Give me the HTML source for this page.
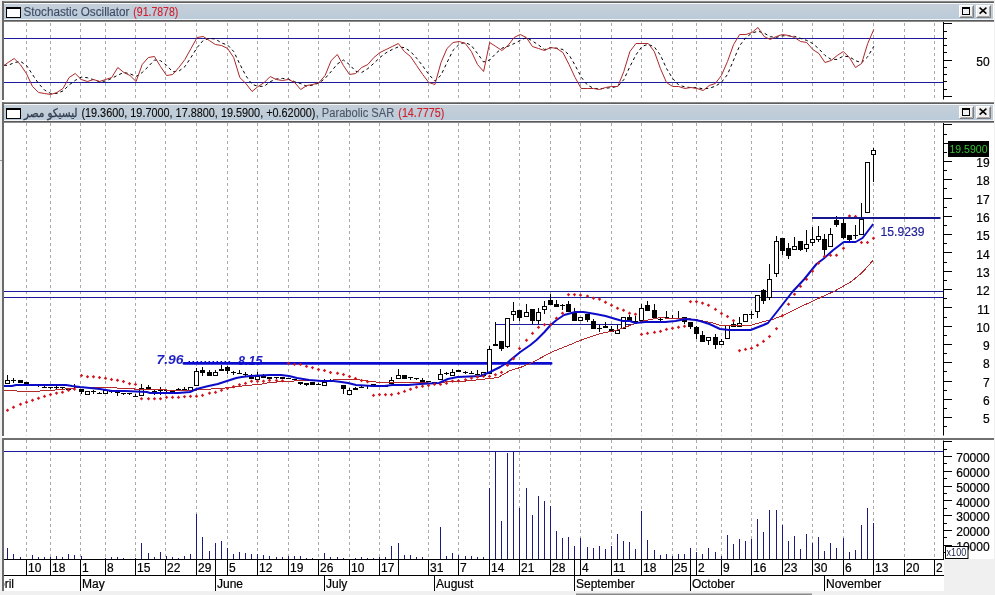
<!DOCTYPE html>
<html><head><meta charset="utf-8"><title>Chart</title>
<style>html,body{margin:0;padding:0;background:#f0f0f0;overflow:hidden}svg{display:block}</style>
</head><body>
<svg width="995" height="595" viewBox="0 0 995 595"><defs><linearGradient id="tg" x1="0" y1="0" x2="0" y2="1"><stop offset="0" stop-color="#c5cfd9"/><stop offset="1" stop-color="#bbcbd9"/></linearGradient></defs><rect x="0" y="0" width="995" height="595" fill="#f0f0f0"/>
<rect x="2" y="1" width="992" height="99" fill="#ffffff"/>
<rect x="2" y="100" width="992" height="3" fill="#ffffff"/>
<rect x="2" y="102" width="992" height="334" fill="#ffffff"/>
<rect x="2" y="436" width="992" height="3" fill="#ffffff"/>
<rect x="2" y="438" width="942" height="153" fill="#ffffff"/>
<rect x="944" y="438" width="50" height="121" fill="#ffffff"/>
<rect x="2" y="1" width="992" height="1" fill="#8a8a8a"/>
<rect x="2" y="2" width="992" height="1" fill="#5e5e5e"/>
<rect x="4" y="3" width="989" height="1" fill="#f6f8fa"/>
<rect x="4" y="4" width="989" height="15" fill="url(#tg)"/>
<rect x="4" y="19" width="989" height="1" fill="#f2f5f8"/>
<rect x="4" y="20" width="990" height="1" fill="#5a5a5a"/>
<rect x="4" y="21" width="990" height="1" fill="#8c8c8c"/>
<rect x="6.5" y="7.5" width="14" height="10" fill="#ffffff" stroke="#000" stroke-width="1"/>
<rect x="6" y="7" width="15" height="2" fill="#000"/>
<rect x="959" y="5" width="15" height="13" fill="#f0f0f0"/>
<path d="M959.5 17.5 V5.5 H973.5" stroke="#ffffff" fill="none"/>
<path d="M959.5 17.5 H973.5 V5.5" stroke="#7c7c7c" fill="none"/>
<path d="M960.5 16.5 H972.5 V6.5" stroke="#a8a8a8" fill="none"/>
<rect x="976" y="5" width="15" height="13" fill="#f0f0f0"/>
<path d="M976.5 17.5 V5.5 H990.5" stroke="#ffffff" fill="none"/>
<path d="M976.5 17.5 H990.5 V5.5" stroke="#7c7c7c" fill="none"/>
<path d="M977.5 16.5 H989.5 V6.5" stroke="#a8a8a8" fill="none"/>
<rect x="962.5" y="7.5" width="7" height="7" fill="none" stroke="#000"/>
<rect x="962" y="7" width="8" height="2" fill="#000"/>
<path d="M979.6 7.6 L986.4 13.6 M986.4 7.6 L979.6 13.6" stroke="#000" stroke-width="1.5"/>
<rect x="2" y="102" width="992" height="1" fill="#8a8a8a"/>
<rect x="2" y="103" width="992" height="1" fill="#5e5e5e"/>
<rect x="4" y="104" width="989" height="1" fill="#f6f8fa"/>
<rect x="4" y="105" width="989" height="15" fill="url(#tg)"/>
<rect x="4" y="120" width="989" height="1" fill="#f2f5f8"/>
<rect x="4" y="121" width="990" height="1" fill="#5a5a5a"/>
<rect x="4" y="122" width="990" height="1" fill="#8c8c8c"/>
<rect x="6.5" y="108.5" width="14" height="10" fill="#ffffff" stroke="#000" stroke-width="1"/>
<rect x="6" y="108" width="15" height="2" fill="#000"/>
<rect x="959" y="106" width="15" height="13" fill="#f0f0f0"/>
<path d="M959.5 118.5 V106.5 H973.5" stroke="#ffffff" fill="none"/>
<path d="M959.5 118.5 H973.5 V106.5" stroke="#7c7c7c" fill="none"/>
<path d="M960.5 117.5 H972.5 V107.5" stroke="#a8a8a8" fill="none"/>
<rect x="976" y="106" width="15" height="13" fill="#f0f0f0"/>
<path d="M976.5 118.5 V106.5 H990.5" stroke="#ffffff" fill="none"/>
<path d="M976.5 118.5 H990.5 V106.5" stroke="#7c7c7c" fill="none"/>
<path d="M977.5 117.5 H989.5 V107.5" stroke="#a8a8a8" fill="none"/>
<rect x="962.5" y="108.5" width="7" height="7" fill="none" stroke="#000"/>
<rect x="962" y="108" width="8" height="2" fill="#000"/>
<path d="M979.6 108.6 L986.4 114.6 M986.4 108.6 L979.6 114.6" stroke="#000" stroke-width="1.5"/>
<rect x="2" y="1" width="2" height="99" fill="#6a6a6a"/>
<rect x="2" y="102" width="2" height="334" fill="#6a6a6a"/>
<rect x="2" y="438" width="2" height="153" fill="#6a6a6a"/>
<rect x="2" y="438" width="992" height="2" fill="#707070"/>
<text x="23.5" y="16" font-family="'Liberation Sans','DejaVu Sans',Arial,sans-serif" font-size="12" fill="#3c4a66" stroke="#3c4a66" stroke-width="0.12" textLength="106" lengthAdjust="spacingAndGlyphs">Stochastic Oscillator</text>
<text x="133.3" y="16" font-family="'Liberation Sans','DejaVu Sans',Arial,sans-serif" font-size="12" fill="#cf1f2f" stroke="#cf1f2f" stroke-width="0.15" textLength="45" lengthAdjust="spacingAndGlyphs">(91.7878)</text>
<text x="0" y="117" transform="translate(77.5 0) scale(0.875 1)" font-family="'Liberation Sans','DejaVu Sans',Arial,sans-serif" font-size="12" fill="#333d50" stroke="#333d50" stroke-width="0.35" text-anchor="end">ليسيكو مصر</text>
<text x="81.4" y="117" font-family="'Liberation Sans','DejaVu Sans',Arial,sans-serif" font-size="12" fill="#0a0a0a" stroke="#0a0a0a" stroke-width="0.12" textLength="234" lengthAdjust="spacingAndGlyphs">(19.3600, 19.7000, 17.8800, 19.5900, +0.62000)</text>
<text x="315.7" y="117" font-family="'Liberation Sans','DejaVu Sans',Arial,sans-serif" font-size="12" fill="#4b5567" stroke="#4b5567" stroke-width="0.12" textLength="78.5" lengthAdjust="spacingAndGlyphs">, Parabolic SAR</text>
<text x="398.3" y="117" font-family="'Liberation Sans','DejaVu Sans',Arial,sans-serif" font-size="12" fill="#cf1f2f" stroke="#cf1f2f" stroke-width="0.15" textLength="46" lengthAdjust="spacingAndGlyphs">(14.7775)</text>
<line x1="26.5" y1="23" x2="26.5" y2="99.5" stroke="#ababab" stroke-width="1" stroke-dasharray="3 3"/>
<line x1="50.5" y1="23" x2="50.5" y2="99.5" stroke="#ababab" stroke-width="1" stroke-dasharray="3 3"/>
<line x1="80.5" y1="23" x2="80.5" y2="99.5" stroke="#ababab" stroke-width="1" stroke-dasharray="3 3"/>
<line x1="105.5" y1="23" x2="105.5" y2="99.5" stroke="#ababab" stroke-width="1" stroke-dasharray="3 3"/>
<line x1="135.5" y1="23" x2="135.5" y2="99.5" stroke="#ababab" stroke-width="1" stroke-dasharray="3 3"/>
<line x1="165.5" y1="23" x2="165.5" y2="99.5" stroke="#ababab" stroke-width="1" stroke-dasharray="3 3"/>
<line x1="196.5" y1="23" x2="196.5" y2="99.5" stroke="#ababab" stroke-width="1" stroke-dasharray="3 3"/>
<line x1="227.5" y1="23" x2="227.5" y2="99.5" stroke="#ababab" stroke-width="1" stroke-dasharray="3 3"/>
<line x1="257.5" y1="23" x2="257.5" y2="99.5" stroke="#ababab" stroke-width="1" stroke-dasharray="3 3"/>
<line x1="288.5" y1="23" x2="288.5" y2="99.5" stroke="#ababab" stroke-width="1" stroke-dasharray="3 3"/>
<line x1="318.5" y1="23" x2="318.5" y2="99.5" stroke="#ababab" stroke-width="1" stroke-dasharray="3 3"/>
<line x1="349.5" y1="23" x2="349.5" y2="99.5" stroke="#ababab" stroke-width="1" stroke-dasharray="3 3"/>
<line x1="379.5" y1="23" x2="379.5" y2="99.5" stroke="#ababab" stroke-width="1" stroke-dasharray="3 3"/>
<line x1="428.5" y1="23" x2="428.5" y2="99.5" stroke="#ababab" stroke-width="1" stroke-dasharray="3 3"/>
<line x1="458.5" y1="23" x2="458.5" y2="99.5" stroke="#ababab" stroke-width="1" stroke-dasharray="3 3"/>
<line x1="489.5" y1="23" x2="489.5" y2="99.5" stroke="#ababab" stroke-width="1" stroke-dasharray="3 3"/>
<line x1="519.5" y1="23" x2="519.5" y2="99.5" stroke="#ababab" stroke-width="1" stroke-dasharray="3 3"/>
<line x1="550.5" y1="23" x2="550.5" y2="99.5" stroke="#ababab" stroke-width="1" stroke-dasharray="3 3"/>
<line x1="580.5" y1="23" x2="580.5" y2="99.5" stroke="#ababab" stroke-width="1" stroke-dasharray="3 3"/>
<line x1="611.5" y1="23" x2="611.5" y2="99.5" stroke="#ababab" stroke-width="1" stroke-dasharray="3 3"/>
<line x1="641.5" y1="23" x2="641.5" y2="99.5" stroke="#ababab" stroke-width="1" stroke-dasharray="3 3"/>
<line x1="672.5" y1="23" x2="672.5" y2="99.5" stroke="#ababab" stroke-width="1" stroke-dasharray="3 3"/>
<line x1="696.5" y1="23" x2="696.5" y2="99.5" stroke="#ababab" stroke-width="1" stroke-dasharray="3 3"/>
<line x1="721.5" y1="23" x2="721.5" y2="99.5" stroke="#ababab" stroke-width="1" stroke-dasharray="3 3"/>
<line x1="751.5" y1="23" x2="751.5" y2="99.5" stroke="#ababab" stroke-width="1" stroke-dasharray="3 3"/>
<line x1="782.5" y1="23" x2="782.5" y2="99.5" stroke="#ababab" stroke-width="1" stroke-dasharray="3 3"/>
<line x1="812.5" y1="23" x2="812.5" y2="99.5" stroke="#ababab" stroke-width="1" stroke-dasharray="3 3"/>
<line x1="843.5" y1="23" x2="843.5" y2="99.5" stroke="#ababab" stroke-width="1" stroke-dasharray="3 3"/>
<line x1="873.5" y1="23" x2="873.5" y2="99.5" stroke="#ababab" stroke-width="1" stroke-dasharray="3 3"/>
<line x1="904.5" y1="23" x2="904.5" y2="99.5" stroke="#ababab" stroke-width="1" stroke-dasharray="3 3"/>
<line x1="934.5" y1="23" x2="934.5" y2="99.5" stroke="#ababab" stroke-width="1" stroke-dasharray="3 3"/>
<line x1="26.5" y1="123" x2="26.5" y2="435.5" stroke="#ababab" stroke-width="1" stroke-dasharray="3 3"/>
<line x1="50.5" y1="123" x2="50.5" y2="435.5" stroke="#ababab" stroke-width="1" stroke-dasharray="3 3"/>
<line x1="80.5" y1="123" x2="80.5" y2="435.5" stroke="#ababab" stroke-width="1" stroke-dasharray="3 3"/>
<line x1="105.5" y1="123" x2="105.5" y2="435.5" stroke="#ababab" stroke-width="1" stroke-dasharray="3 3"/>
<line x1="135.5" y1="123" x2="135.5" y2="435.5" stroke="#ababab" stroke-width="1" stroke-dasharray="3 3"/>
<line x1="165.5" y1="123" x2="165.5" y2="435.5" stroke="#ababab" stroke-width="1" stroke-dasharray="3 3"/>
<line x1="196.5" y1="123" x2="196.5" y2="435.5" stroke="#ababab" stroke-width="1" stroke-dasharray="3 3"/>
<line x1="227.5" y1="123" x2="227.5" y2="435.5" stroke="#ababab" stroke-width="1" stroke-dasharray="3 3"/>
<line x1="257.5" y1="123" x2="257.5" y2="435.5" stroke="#ababab" stroke-width="1" stroke-dasharray="3 3"/>
<line x1="288.5" y1="123" x2="288.5" y2="435.5" stroke="#ababab" stroke-width="1" stroke-dasharray="3 3"/>
<line x1="318.5" y1="123" x2="318.5" y2="435.5" stroke="#ababab" stroke-width="1" stroke-dasharray="3 3"/>
<line x1="349.5" y1="123" x2="349.5" y2="435.5" stroke="#ababab" stroke-width="1" stroke-dasharray="3 3"/>
<line x1="379.5" y1="123" x2="379.5" y2="435.5" stroke="#ababab" stroke-width="1" stroke-dasharray="3 3"/>
<line x1="428.5" y1="123" x2="428.5" y2="435.5" stroke="#ababab" stroke-width="1" stroke-dasharray="3 3"/>
<line x1="458.5" y1="123" x2="458.5" y2="435.5" stroke="#ababab" stroke-width="1" stroke-dasharray="3 3"/>
<line x1="489.5" y1="123" x2="489.5" y2="435.5" stroke="#ababab" stroke-width="1" stroke-dasharray="3 3"/>
<line x1="519.5" y1="123" x2="519.5" y2="435.5" stroke="#ababab" stroke-width="1" stroke-dasharray="3 3"/>
<line x1="550.5" y1="123" x2="550.5" y2="435.5" stroke="#ababab" stroke-width="1" stroke-dasharray="3 3"/>
<line x1="580.5" y1="123" x2="580.5" y2="435.5" stroke="#ababab" stroke-width="1" stroke-dasharray="3 3"/>
<line x1="611.5" y1="123" x2="611.5" y2="435.5" stroke="#ababab" stroke-width="1" stroke-dasharray="3 3"/>
<line x1="641.5" y1="123" x2="641.5" y2="435.5" stroke="#ababab" stroke-width="1" stroke-dasharray="3 3"/>
<line x1="672.5" y1="123" x2="672.5" y2="435.5" stroke="#ababab" stroke-width="1" stroke-dasharray="3 3"/>
<line x1="696.5" y1="123" x2="696.5" y2="435.5" stroke="#ababab" stroke-width="1" stroke-dasharray="3 3"/>
<line x1="721.5" y1="123" x2="721.5" y2="435.5" stroke="#ababab" stroke-width="1" stroke-dasharray="3 3"/>
<line x1="751.5" y1="123" x2="751.5" y2="435.5" stroke="#ababab" stroke-width="1" stroke-dasharray="3 3"/>
<line x1="782.5" y1="123" x2="782.5" y2="435.5" stroke="#ababab" stroke-width="1" stroke-dasharray="3 3"/>
<line x1="812.5" y1="123" x2="812.5" y2="435.5" stroke="#ababab" stroke-width="1" stroke-dasharray="3 3"/>
<line x1="843.5" y1="123" x2="843.5" y2="435.5" stroke="#ababab" stroke-width="1" stroke-dasharray="3 3"/>
<line x1="873.5" y1="123" x2="873.5" y2="435.5" stroke="#ababab" stroke-width="1" stroke-dasharray="3 3"/>
<line x1="904.5" y1="123" x2="904.5" y2="435.5" stroke="#ababab" stroke-width="1" stroke-dasharray="3 3"/>
<line x1="934.5" y1="123" x2="934.5" y2="435.5" stroke="#ababab" stroke-width="1" stroke-dasharray="3 3"/>
<line x1="26.5" y1="440" x2="26.5" y2="559" stroke="#ababab" stroke-width="1" stroke-dasharray="3 3"/>
<line x1="50.5" y1="440" x2="50.5" y2="559" stroke="#ababab" stroke-width="1" stroke-dasharray="3 3"/>
<line x1="80.5" y1="440" x2="80.5" y2="559" stroke="#ababab" stroke-width="1" stroke-dasharray="3 3"/>
<line x1="105.5" y1="440" x2="105.5" y2="559" stroke="#ababab" stroke-width="1" stroke-dasharray="3 3"/>
<line x1="135.5" y1="440" x2="135.5" y2="559" stroke="#ababab" stroke-width="1" stroke-dasharray="3 3"/>
<line x1="165.5" y1="440" x2="165.5" y2="559" stroke="#ababab" stroke-width="1" stroke-dasharray="3 3"/>
<line x1="196.5" y1="440" x2="196.5" y2="559" stroke="#ababab" stroke-width="1" stroke-dasharray="3 3"/>
<line x1="227.5" y1="440" x2="227.5" y2="559" stroke="#ababab" stroke-width="1" stroke-dasharray="3 3"/>
<line x1="257.5" y1="440" x2="257.5" y2="559" stroke="#ababab" stroke-width="1" stroke-dasharray="3 3"/>
<line x1="288.5" y1="440" x2="288.5" y2="559" stroke="#ababab" stroke-width="1" stroke-dasharray="3 3"/>
<line x1="318.5" y1="440" x2="318.5" y2="559" stroke="#ababab" stroke-width="1" stroke-dasharray="3 3"/>
<line x1="349.5" y1="440" x2="349.5" y2="559" stroke="#ababab" stroke-width="1" stroke-dasharray="3 3"/>
<line x1="379.5" y1="440" x2="379.5" y2="559" stroke="#ababab" stroke-width="1" stroke-dasharray="3 3"/>
<line x1="428.5" y1="440" x2="428.5" y2="559" stroke="#ababab" stroke-width="1" stroke-dasharray="3 3"/>
<line x1="458.5" y1="440" x2="458.5" y2="559" stroke="#ababab" stroke-width="1" stroke-dasharray="3 3"/>
<line x1="489.5" y1="440" x2="489.5" y2="559" stroke="#ababab" stroke-width="1" stroke-dasharray="3 3"/>
<line x1="519.5" y1="440" x2="519.5" y2="559" stroke="#ababab" stroke-width="1" stroke-dasharray="3 3"/>
<line x1="550.5" y1="440" x2="550.5" y2="559" stroke="#ababab" stroke-width="1" stroke-dasharray="3 3"/>
<line x1="580.5" y1="440" x2="580.5" y2="559" stroke="#ababab" stroke-width="1" stroke-dasharray="3 3"/>
<line x1="611.5" y1="440" x2="611.5" y2="559" stroke="#ababab" stroke-width="1" stroke-dasharray="3 3"/>
<line x1="641.5" y1="440" x2="641.5" y2="559" stroke="#ababab" stroke-width="1" stroke-dasharray="3 3"/>
<line x1="672.5" y1="440" x2="672.5" y2="559" stroke="#ababab" stroke-width="1" stroke-dasharray="3 3"/>
<line x1="696.5" y1="440" x2="696.5" y2="559" stroke="#ababab" stroke-width="1" stroke-dasharray="3 3"/>
<line x1="721.5" y1="440" x2="721.5" y2="559" stroke="#ababab" stroke-width="1" stroke-dasharray="3 3"/>
<line x1="751.5" y1="440" x2="751.5" y2="559" stroke="#ababab" stroke-width="1" stroke-dasharray="3 3"/>
<line x1="782.5" y1="440" x2="782.5" y2="559" stroke="#ababab" stroke-width="1" stroke-dasharray="3 3"/>
<line x1="812.5" y1="440" x2="812.5" y2="559" stroke="#ababab" stroke-width="1" stroke-dasharray="3 3"/>
<line x1="843.5" y1="440" x2="843.5" y2="559" stroke="#ababab" stroke-width="1" stroke-dasharray="3 3"/>
<line x1="873.5" y1="440" x2="873.5" y2="559" stroke="#ababab" stroke-width="1" stroke-dasharray="3 3"/>
<line x1="904.5" y1="440" x2="904.5" y2="559" stroke="#ababab" stroke-width="1" stroke-dasharray="3 3"/>
<line x1="934.5" y1="440" x2="934.5" y2="559" stroke="#ababab" stroke-width="1" stroke-dasharray="3 3"/>
<line x1="4" y1="38.5" x2="943" y2="38.5" stroke="#1b1b9c" stroke-width="1"/>
<line x1="4" y1="82.5" x2="943" y2="82.5" stroke="#1b1b9c" stroke-width="1"/>
<polyline fill="none" stroke="#000" stroke-width="1" stroke-dasharray="3 3" points="4.0,65.3 8.1,65.3 14.2,62.7 20.3,61.3 26.4,65.3 32.5,74.5 38.6,83.6 44.7,90.2 50.8,93.5 56.9,93.5 63.0,90.9 69.1,85.0 75.2,80.4 81.3,77.1 87.4,77.7 93.5,79.7 99.5,81.7 105.6,81.0 111.7,78.4 117.8,75.1 123.9,72.5 130.0,73.8 136.1,76.4 142.2,72.5 148.3,66.6 154.4,60.0 160.5,60.7 166.6,65.3 172.7,71.8 178.8,71.2 184.9,66.6 191.0,57.4 197.1,47.6 203.2,40.4 209.3,38.4 215.4,39.0 221.5,43.0 227.6,45.0 233.7,51.5 239.8,64.0 245.9,75.8 252.0,84.3 258.1,86.3 264.2,86.3 270.2,81.7 276.3,79.0 282.4,78.4 288.5,79.0 294.6,81.7 300.7,83.6 306.8,86.3 312.9,85.0 319.0,83.0 325.1,78.4 331.2,71.5 337.3,64.0 343.4,60.0 349.5,64.6 355.6,71.2 361.7,72.5 367.8,68.6 373.9,63.3 380.0,57.4 386.1,52.8 392.2,49.5 398.3,46.9 404.4,47.6 410.5,51.5 416.6,58.1 422.7,65.9 428.8,74.5 434.9,81.0 441.0,75.2 447.0,62.6 453.1,50.2 459.2,44.3 465.3,42.3 471.4,45.6 477.5,53.5 483.6,62.0 489.7,60.0 495.8,53.5 501.9,48.2 508.0,46.3 514.1,43.6 520.2,40.4 526.3,37.5 532.4,41.0 538.5,45.0 544.6,49.5 550.7,47.6 556.8,48.2 562.9,49.5 569.0,54.8 575.1,65.3 581.2,77.1 587.3,85.0 593.4,88.2 599.5,88.9 605.6,88.2 611.7,87.6 617.8,86.3 623.8,79.7 629.9,66.6 636.0,54.8 642.1,46.3 648.2,44.3 654.3,46.9 660.4,55.1 666.5,68.5 672.6,78.4 678.7,85.0 684.8,86.9 690.9,87.6 697.0,87.6 703.1,88.9 709.2,88.2 715.3,86.3 721.4,82.3 727.5,74.5 733.6,60.0 739.7,45.6 745.8,37.7 751.9,33.1 758.0,31.2 764.1,33.1 770.2,36.7 776.3,37.4 782.4,35.8 788.5,35.8 794.5,36.4 800.6,38.4 806.7,40.4 812.8,43.6 818.9,48.9 825.0,55.4 831.1,59.4 837.2,59.4 843.3,56.1 849.4,56.8 855.5,60.7 861.6,62.7 867.7,56.8 873.8,46.3"/>
<polyline fill="none" stroke="#ac2828" stroke-width="1" points="4.0,65.5 8.1,62.5 14.2,58.5 20.3,64.5 26.4,73.5 32.5,86.5 38.6,92.5 44.7,93.5 50.8,94.5 56.9,92.5 63.0,88.5 69.1,77.5 75.2,73.5 81.3,79.5 87.4,81.5 93.5,79.5 99.5,81.5 105.6,79.5 111.7,77.5 117.8,67.5 123.9,72.5 130.0,75.5 136.1,81.5 142.2,64.5 148.3,57.5 154.4,56.5 160.5,66.5 166.6,75.5 172.7,74.5 178.8,67.5 184.9,59.5 191.0,48.5 197.1,37.5 203.2,36.5 209.3,40.5 215.4,44.5 221.5,45.5 227.6,48.5 233.7,57.5 239.8,77.5 245.9,83.5 252.0,91.5 258.1,86.5 264.2,82.5 270.2,76.5 276.3,79.5 282.4,80.5 288.5,79.5 294.6,82.5 300.7,89.5 306.8,85.5 312.9,84.5 319.0,82.5 325.1,75.5 331.2,60.5 337.3,54.5 343.4,65.5 349.5,74.5 355.6,73.5 361.7,67.5 367.8,64.5 373.9,57.5 380.0,52.5 386.1,49.5 392.2,46.5 398.3,43.5 404.4,51.5 410.5,56.5 416.6,65.5 422.7,74.5 428.8,82.5 434.9,84.5 441.0,62.5 447.0,48.5 453.1,42.5 459.2,41.5 465.3,43.5 471.4,51.5 477.5,64.5 483.6,71.5 489.7,42.5 495.8,46.5 501.9,50.5 508.0,45.5 514.1,37.5 520.2,34.5 526.3,37.5 532.4,46.5 538.5,48.5 544.6,50.5 550.7,47.5 556.8,48.5 562.9,52.5 569.0,64.5 575.1,77.5 581.2,88.5 587.3,88.5 593.4,88.5 599.5,89.5 605.6,87.5 611.7,86.5 617.8,86.5 623.8,71.5 629.9,51.5 636.0,43.5 642.1,43.5 648.2,43.5 654.3,51.5 660.4,68.5 666.5,82.5 672.6,86.5 678.7,86.5 684.8,88.5 690.9,87.5 697.0,88.5 703.1,90.5 709.2,85.5 715.3,83.5 721.4,75.5 727.5,61.5 733.6,44.5 739.7,34.5 745.8,34.5 751.9,32.5 758.0,27.5 764.1,36.5 770.2,39.5 776.3,36.5 782.4,34.5 788.5,35.5 794.5,37.5 800.6,41.5 806.7,42.5 812.8,49.5 818.9,53.5 825.0,62.5 831.1,60.5 837.2,55.5 843.3,51.5 849.4,57.5 855.5,67.5 861.6,63.5 867.7,43.5 873.8,29.5"/>
<line x1="943.5" y1="22" x2="943.5" y2="99.5" stroke="#000"/>
<line x1="943" y1="96.5" x2="952" y2="96.5" stroke="#000"/>
<line x1="943" y1="89.5" x2="947" y2="89.5" stroke="#000"/>
<line x1="943" y1="81.5" x2="947" y2="81.5" stroke="#000"/>
<line x1="943" y1="74.5" x2="947" y2="74.5" stroke="#000"/>
<line x1="943" y1="67.5" x2="947" y2="67.5" stroke="#000"/>
<line x1="943" y1="60.5" x2="952" y2="60.5" stroke="#000"/>
<line x1="943" y1="52.5" x2="947" y2="52.5" stroke="#000"/>
<line x1="943" y1="45.5" x2="947" y2="45.5" stroke="#000"/>
<line x1="943" y1="38.5" x2="947" y2="38.5" stroke="#000"/>
<line x1="943" y1="31.5" x2="947" y2="31.5" stroke="#000"/>
<line x1="943" y1="23.5" x2="952" y2="23.5" stroke="#000"/>
<text x="989.6" y="66" font-family="'Liberation Sans','DejaVu Sans',Arial,sans-serif" font-size="12" fill="#000" stroke="#000" stroke-width="0.2" text-anchor="end">50</text>
<line x1="4" y1="291.5" x2="943" y2="291.5" stroke="#1b1b9c" stroke-width="1"/>
<line x1="4" y1="297.5" x2="943" y2="297.5" stroke="#1b1b9c" stroke-width="1"/>
<line x1="495" y1="324.5" x2="632" y2="324.5" stroke="#1b1b9c" stroke-width="1"/>
<text x="880.5" y="236" font-family="'Liberation Sans','DejaVu Sans',Arial,sans-serif" font-size="12.5" fill="#1e1e98" stroke="#1e1e98" stroke-width="0.2" textLength="44" lengthAdjust="spacingAndGlyphs">15.9239</text>
<text x="156.5" y="364.3" font-family="'Liberation Sans','DejaVu Sans',Arial,sans-serif" font-size="12" font-weight="bold" font-style="italic" fill="#1f1fc4" textLength="27" lengthAdjust="spacingAndGlyphs">7.96</text>
<text x="238" y="365" font-family="'Liberation Sans','DejaVu Sans',Arial,sans-serif" font-size="12" font-weight="bold" font-style="italic" fill="#1f1fc4" textLength="24.5" lengthAdjust="spacingAndGlyphs">8.15</text>
<line x1="184" y1="363.4" x2="551" y2="363.4" stroke="#0b0bd0" stroke-width="2.9" stroke-linecap="round"/>
<line x1="188.5" y1="361.5" x2="232" y2="361.5" stroke="#0a0ab4" stroke-width="1" stroke-dasharray="1.6 2.4"/>
<g shape-rendering="crispEdges"><rect x="7" y="375" width="1" height="5" fill="#000"/><rect x="5.5" y="380.5" width="4" height="3" fill="#fff" stroke="#000" stroke-width="1"/><rect x="13" y="378" width="1" height="5" fill="#000"/><rect x="11" y="380" width="5" height="1" fill="#000"/><rect x="18" y="380" width="5" height="3" fill="#000"/><rect x="24" y="382" width="5" height="2" fill="#000"/><rect x="32" y="384" width="1" height="2" fill="#000"/><rect x="30" y="385" width="5" height="1" fill="#000"/><rect x="38" y="385" width="1" height="2" fill="#000"/><rect x="36" y="385" width="5" height="1" fill="#000"/><rect x="44" y="386" width="1" height="2" fill="#000"/><rect x="42" y="387" width="5" height="1" fill="#000"/><rect x="50" y="387" width="1" height="2" fill="#000"/><rect x="48" y="387" width="5" height="1" fill="#000"/><rect x="56" y="386" width="1" height="3" fill="#000"/><rect x="54" y="387" width="5" height="1" fill="#000"/><rect x="62" y="387" width="1" height="2" fill="#000"/><rect x="60" y="387" width="5" height="1" fill="#000"/><rect x="66" y="388" width="5" height="2" fill="#000"/><rect x="74" y="384" width="1" height="4" fill="#000"/><rect x="72" y="386" width="5" height="1" fill="#000"/><rect x="81" y="392" width="1" height="2" fill="#000"/><rect x="79" y="389" width="5" height="3" fill="#000"/><rect x="85.5" y="391.5" width="4" height="3" fill="#fff" stroke="#000" stroke-width="1"/><rect x="93" y="390" width="1" height="4" fill="#000"/><rect x="91" y="391" width="5" height="1" fill="#000"/><rect x="99" y="392" width="1" height="2" fill="#000"/><rect x="97" y="393" width="5" height="1" fill="#000"/><rect x="103.5" y="390.5" width="4" height="3" fill="#fff" stroke="#000" stroke-width="1"/><rect x="111" y="391" width="1" height="2" fill="#000"/><rect x="109" y="391" width="5" height="1" fill="#000"/><rect x="117" y="392" width="1" height="4" fill="#000"/><rect x="115" y="392" width="5" height="1" fill="#000"/><rect x="123" y="393" width="1" height="2" fill="#000"/><rect x="121" y="393" width="5" height="1" fill="#000"/><rect x="129" y="393" width="1" height="2" fill="#000"/><rect x="127" y="393" width="5" height="1" fill="#000"/><rect x="135" y="394" width="1" height="3" fill="#000"/><rect x="133" y="396" width="5" height="1" fill="#000"/><rect x="141" y="384" width="1" height="4" fill="#000"/><rect x="139.5" y="388.5" width="4" height="7" fill="#fff" stroke="#000" stroke-width="1"/><rect x="148" y="385" width="1" height="2" fill="#000"/><rect x="146" y="387" width="5" height="2" fill="#000"/><rect x="154" y="390" width="1" height="5" fill="#000"/><rect x="152" y="391" width="5" height="1" fill="#000"/><rect x="160" y="387" width="1" height="8" fill="#000"/><rect x="158" y="390" width="5" height="1" fill="#000"/><rect x="166" y="389" width="1" height="3" fill="#000"/><rect x="164" y="390" width="5" height="1" fill="#000"/><rect x="170" y="391" width="5" height="2" fill="#000"/><rect x="178" y="388" width="1" height="3" fill="#000"/><rect x="176" y="389" width="5" height="1" fill="#000"/><rect x="184" y="387" width="1" height="4" fill="#000"/><rect x="182" y="389" width="5" height="1" fill="#000"/><rect x="188.5" y="387.5" width="4" height="3" fill="#fff" stroke="#000" stroke-width="1"/><rect x="196" y="368" width="1" height="3" fill="#000"/><rect x="194.5" y="371.5" width="4" height="14" fill="#fff" stroke="#000" stroke-width="1"/><rect x="202" y="367" width="1" height="3" fill="#000"/><rect x="202" y="373" width="1" height="3" fill="#000"/><rect x="200" y="370" width="5" height="3" fill="#000"/><rect x="209" y="370" width="1" height="2" fill="#000"/><rect x="207" y="372" width="5" height="4" fill="#000"/><rect x="215" y="370" width="1" height="2" fill="#000"/><rect x="213.5" y="372.5" width="4" height="3" fill="#fff" stroke="#000" stroke-width="1"/><rect x="221" y="365" width="1" height="4" fill="#000"/><rect x="219" y="369" width="5" height="2" fill="#000"/><rect x="227" y="366" width="1" height="1" fill="#000"/><rect x="227" y="371" width="1" height="3" fill="#000"/><rect x="225" y="367" width="5" height="4" fill="#000"/><rect x="233" y="371" width="1" height="4" fill="#000"/><rect x="231" y="372" width="5" height="1" fill="#000"/><rect x="239" y="370" width="1" height="3" fill="#000"/><rect x="237" y="373" width="5" height="1" fill="#000"/><rect x="245" y="372" width="1" height="4" fill="#000"/><rect x="243" y="374" width="5" height="1" fill="#000"/><rect x="251" y="374" width="1" height="3" fill="#000"/><rect x="249" y="377" width="5" height="2" fill="#000"/><rect x="257" y="372" width="1" height="4" fill="#000"/><rect x="255.5" y="376.5" width="4" height="3" fill="#fff" stroke="#000" stroke-width="1"/><rect x="263" y="374" width="1" height="2" fill="#000"/><rect x="261" y="376" width="5" height="2" fill="#000"/><rect x="267" y="377" width="5" height="2" fill="#000"/><rect x="276" y="377" width="1" height="2" fill="#000"/><rect x="274" y="377" width="5" height="1" fill="#000"/><rect x="280" y="377" width="5" height="2" fill="#000"/><rect x="288" y="378" width="1" height="1" fill="#000"/><rect x="286" y="378" width="5" height="1" fill="#000"/><rect x="294" y="379" width="1" height="1" fill="#000"/><rect x="292" y="379" width="5" height="1" fill="#000"/><rect x="300" y="384" width="1" height="1" fill="#000"/><rect x="298" y="382" width="5" height="2" fill="#000"/><rect x="306" y="385" width="1" height="1" fill="#000"/><rect x="304" y="383" width="5" height="2" fill="#000"/><rect x="310" y="382" width="5" height="3" fill="#000"/><rect x="318" y="383" width="1" height="1" fill="#000"/><rect x="316" y="384" width="5" height="1" fill="#000"/><rect x="324" y="379" width="1" height="3" fill="#000"/><rect x="322.5" y="382.5" width="4" height="3" fill="#fff" stroke="#000" stroke-width="1"/><rect x="330" y="379" width="1" height="2" fill="#000"/><rect x="328" y="380" width="5" height="1" fill="#000"/><rect x="337" y="379" width="1" height="1" fill="#000"/><rect x="335" y="379" width="5" height="1" fill="#000"/><rect x="343" y="389" width="1" height="5" fill="#000"/><rect x="341" y="385" width="5" height="4" fill="#000"/><rect x="349" y="388" width="1" height="2" fill="#000"/><rect x="347.5" y="390.5" width="4" height="4" fill="#fff" stroke="#000" stroke-width="1"/><rect x="355" y="387" width="1" height="1" fill="#000"/><rect x="353" y="388" width="5" height="2" fill="#000"/><rect x="361" y="386" width="1" height="1" fill="#000"/><rect x="359" y="387" width="5" height="1" fill="#000"/><rect x="367" y="386" width="1" height="3" fill="#000"/><rect x="365" y="385" width="5" height="1" fill="#000"/><rect x="373" y="384" width="1" height="1" fill="#000"/><rect x="371" y="384" width="5" height="1" fill="#000"/><rect x="379" y="385" width="1" height="1" fill="#000"/><rect x="377" y="385" width="5" height="1" fill="#000"/><rect x="383" y="385" width="5" height="2" fill="#000"/><rect x="391" y="377" width="1" height="3" fill="#000"/><rect x="389.5" y="380.5" width="4" height="3" fill="#fff" stroke="#000" stroke-width="1"/><rect x="398" y="369" width="1" height="6" fill="#000"/><rect x="396.5" y="375.5" width="4" height="3" fill="#fff" stroke="#000" stroke-width="1"/><rect x="402" y="375" width="5" height="4" fill="#000"/><rect x="410" y="378" width="1" height="2" fill="#000"/><rect x="408" y="377" width="5" height="1" fill="#000"/><rect x="416" y="378" width="1" height="2" fill="#000"/><rect x="414" y="378" width="5" height="1" fill="#000"/><rect x="422" y="378" width="1" height="2" fill="#000"/><rect x="420" y="380" width="5" height="2" fill="#000"/><rect x="428" y="381" width="1" height="1" fill="#000"/><rect x="426" y="381" width="5" height="1" fill="#000"/><rect x="434" y="382" width="1" height="1" fill="#000"/><rect x="432" y="382" width="5" height="1" fill="#000"/><rect x="440" y="369" width="1" height="5" fill="#000"/><rect x="438.5" y="374.5" width="4" height="5" fill="#fff" stroke="#000" stroke-width="1"/><rect x="446" y="372" width="1" height="3" fill="#000"/><rect x="444" y="373" width="5" height="1" fill="#000"/><rect x="452" y="369" width="1" height="3" fill="#000"/><rect x="450.5" y="372.5" width="4" height="3" fill="#fff" stroke="#000" stroke-width="1"/><rect x="456" y="370" width="5" height="2" fill="#000"/><rect x="465" y="371" width="1" height="3" fill="#000"/><rect x="463" y="372" width="5" height="1" fill="#000"/><rect x="471" y="371" width="1" height="2" fill="#000"/><rect x="469" y="373" width="5" height="1" fill="#000"/><rect x="477" y="370" width="1" height="5" fill="#000"/><rect x="475" y="374" width="5" height="1" fill="#000"/><rect x="481.5" y="372.5" width="4" height="3" fill="#fff" stroke="#000" stroke-width="1"/><rect x="489" y="346" width="1" height="3" fill="#000"/><rect x="487.5" y="349.5" width="4" height="24" fill="#fff" stroke="#000" stroke-width="1"/><rect x="495" y="322" width="1" height="22" fill="#000"/><rect x="493" y="344" width="5" height="2" fill="#000"/><rect x="501" y="349" width="1" height="2" fill="#000"/><rect x="499" y="341" width="5" height="8" fill="#000"/><rect x="507" y="347" width="1" height="1" fill="#000"/><rect x="505.5" y="318.5" width="4" height="28" fill="#fff" stroke="#000" stroke-width="1"/><rect x="513" y="302" width="1" height="9" fill="#000"/><rect x="513" y="315" width="1" height="6" fill="#000"/><rect x="511.5" y="311.5" width="4" height="3" fill="#fff" stroke="#000" stroke-width="1"/><rect x="519" y="318" width="1" height="3" fill="#000"/><rect x="517" y="310" width="5" height="8" fill="#000"/><rect x="526" y="304" width="1" height="8" fill="#000"/><rect x="524.5" y="312.5" width="4" height="4" fill="#fff" stroke="#000" stroke-width="1"/><rect x="532" y="321" width="1" height="3" fill="#000"/><rect x="530" y="309" width="5" height="12" fill="#000"/><rect x="538" y="308" width="1" height="4" fill="#000"/><rect x="538" y="321" width="1" height="3" fill="#000"/><rect x="536.5" y="312.5" width="4" height="8" fill="#fff" stroke="#000" stroke-width="1"/><rect x="544" y="301" width="1" height="5" fill="#000"/><rect x="544" y="310" width="1" height="4" fill="#000"/><rect x="542.5" y="306.5" width="4" height="3" fill="#fff" stroke="#000" stroke-width="1"/><rect x="550" y="294" width="1" height="6" fill="#000"/><rect x="548" y="300" width="5" height="5" fill="#000"/><rect x="556" y="300" width="1" height="4" fill="#000"/><rect x="554" y="304" width="5" height="3" fill="#000"/><rect x="562" y="304" width="1" height="6" fill="#000"/><rect x="560" y="305" width="5" height="1" fill="#000"/><rect x="568" y="301" width="1" height="3" fill="#000"/><rect x="566" y="304" width="5" height="8" fill="#000"/><rect x="574" y="308" width="1" height="4" fill="#000"/><rect x="572" y="312" width="5" height="9" fill="#000"/><rect x="578.5" y="317.5" width="4" height="3" fill="#fff" stroke="#000" stroke-width="1"/><rect x="587" y="320" width="1" height="2" fill="#000"/><rect x="585" y="314" width="5" height="6" fill="#000"/><rect x="593" y="319" width="1" height="2" fill="#000"/><rect x="591" y="321" width="5" height="8" fill="#000"/><rect x="599" y="325" width="1" height="7" fill="#000"/><rect x="597" y="328" width="5" height="1" fill="#000"/><rect x="605" y="322" width="1" height="4" fill="#000"/><rect x="603" y="326" width="5" height="2" fill="#000"/><rect x="611" y="326" width="1" height="3" fill="#000"/><rect x="609" y="329" width="5" height="3" fill="#000"/><rect x="617" y="325" width="1" height="5" fill="#000"/><rect x="615.5" y="330.5" width="4" height="3" fill="#fff" stroke="#000" stroke-width="1"/><rect x="621.5" y="317.5" width="4" height="11" fill="#fff" stroke="#000" stroke-width="1"/><rect x="629" y="315" width="1" height="2" fill="#000"/><rect x="627" y="317" width="5" height="4" fill="#000"/><rect x="635" y="316" width="1" height="6" fill="#000"/><rect x="633" y="321" width="5" height="1" fill="#000"/><rect x="641" y="304" width="1" height="4" fill="#000"/><rect x="639.5" y="308.5" width="4" height="12" fill="#fff" stroke="#000" stroke-width="1"/><rect x="647" y="301" width="1" height="4" fill="#000"/><rect x="645" y="305" width="5" height="6" fill="#000"/><rect x="654" y="304" width="1" height="6" fill="#000"/><rect x="652" y="310" width="5" height="8" fill="#000"/><rect x="660" y="317" width="1" height="4" fill="#000"/><rect x="658" y="319" width="5" height="1" fill="#000"/><rect x="666" y="311" width="1" height="7" fill="#000"/><rect x="664" y="317" width="5" height="1" fill="#000"/><rect x="672" y="315" width="1" height="4" fill="#000"/><rect x="670" y="318" width="5" height="1" fill="#000"/><rect x="678" y="311" width="1" height="8" fill="#000"/><rect x="676" y="318" width="5" height="1" fill="#000"/><rect x="684" y="322" width="1" height="2" fill="#000"/><rect x="682" y="317" width="5" height="5" fill="#000"/><rect x="690" y="327" width="1" height="2" fill="#000"/><rect x="688" y="322" width="5" height="5" fill="#000"/><rect x="696" y="326" width="1" height="1" fill="#000"/><rect x="696" y="334" width="1" height="5" fill="#000"/><rect x="694" y="327" width="5" height="7" fill="#000"/><rect x="702" y="331" width="1" height="4" fill="#000"/><rect x="700" y="335" width="5" height="7" fill="#000"/><rect x="708" y="341" width="1" height="4" fill="#000"/><rect x="706.5" y="337.5" width="4" height="3" fill="#fff" stroke="#000" stroke-width="1"/><rect x="715" y="334" width="1" height="3" fill="#000"/><rect x="715" y="345" width="1" height="4" fill="#000"/><rect x="713" y="337" width="5" height="8" fill="#000"/><rect x="721" y="339" width="1" height="2" fill="#000"/><rect x="719.5" y="341.5" width="4" height="3" fill="#fff" stroke="#000" stroke-width="1"/><rect x="725.5" y="325.5" width="4" height="13" fill="#fff" stroke="#000" stroke-width="1"/><rect x="733" y="321" width="1" height="3" fill="#000"/><rect x="731" y="324" width="5" height="3" fill="#000"/><rect x="739" y="317" width="1" height="6" fill="#000"/><rect x="737.5" y="323.5" width="4" height="3" fill="#fff" stroke="#000" stroke-width="1"/><rect x="743.5" y="314.5" width="4" height="7" fill="#fff" stroke="#000" stroke-width="1"/><rect x="751" y="311" width="1" height="8" fill="#000"/><rect x="749" y="314" width="5" height="1" fill="#000"/><rect x="757" y="312" width="1" height="6" fill="#000"/><rect x="755.5" y="295.5" width="4" height="16" fill="#fff" stroke="#000" stroke-width="1"/><rect x="763" y="289" width="1" height="1" fill="#000"/><rect x="763" y="301" width="1" height="3" fill="#000"/><rect x="761" y="290" width="5" height="11" fill="#000"/><rect x="769" y="264" width="1" height="15" fill="#000"/><rect x="769" y="298" width="1" height="2" fill="#000"/><rect x="767.5" y="279.5" width="4" height="18" fill="#fff" stroke="#000" stroke-width="1"/><rect x="776" y="236" width="1" height="5" fill="#000"/><rect x="776" y="274" width="1" height="3" fill="#000"/><rect x="774.5" y="241.5" width="4" height="32" fill="#fff" stroke="#000" stroke-width="1"/><rect x="782" y="251" width="1" height="4" fill="#000"/><rect x="780" y="238" width="5" height="13" fill="#000"/><rect x="788" y="243" width="1" height="5" fill="#000"/><rect x="788" y="256" width="1" height="3" fill="#000"/><rect x="786" y="248" width="5" height="8" fill="#000"/><rect x="794" y="237" width="1" height="9" fill="#000"/><rect x="792.5" y="246.5" width="4" height="3" fill="#fff" stroke="#000" stroke-width="1"/><rect x="800" y="250" width="1" height="1" fill="#000"/><rect x="798" y="241" width="5" height="9" fill="#000"/><rect x="806" y="230" width="1" height="14" fill="#000"/><rect x="806" y="249" width="1" height="3" fill="#000"/><rect x="804.5" y="244.5" width="4" height="4" fill="#fff" stroke="#000" stroke-width="1"/><rect x="812" y="227" width="1" height="12" fill="#000"/><rect x="812" y="243" width="1" height="3" fill="#000"/><rect x="810.5" y="239.5" width="4" height="3" fill="#fff" stroke="#000" stroke-width="1"/><rect x="818" y="226" width="1" height="10" fill="#000"/><rect x="818" y="240" width="1" height="2" fill="#000"/><rect x="816.5" y="236.5" width="4" height="3" fill="#fff" stroke="#000" stroke-width="1"/><rect x="824" y="234" width="1" height="5" fill="#000"/><rect x="824" y="250" width="1" height="5" fill="#000"/><rect x="822" y="239" width="5" height="11" fill="#000"/><rect x="830" y="228" width="1" height="6" fill="#000"/><rect x="828.5" y="234.5" width="4" height="12" fill="#fff" stroke="#000" stroke-width="1"/><rect x="836" y="216" width="1" height="4" fill="#000"/><rect x="836" y="225" width="1" height="2" fill="#000"/><rect x="834" y="220" width="5" height="5" fill="#000"/><rect x="843" y="218" width="1" height="5" fill="#000"/><rect x="843" y="238" width="1" height="1" fill="#000"/><rect x="841" y="223" width="5" height="15" fill="#000"/><rect x="849" y="240" width="1" height="1" fill="#000"/><rect x="847" y="235" width="5" height="5" fill="#000"/><rect x="855" y="225" width="1" height="14" fill="#000"/><rect x="853" y="235" width="5" height="1" fill="#000"/><rect x="861" y="203" width="1" height="16" fill="#000"/><rect x="859.5" y="219.5" width="4" height="15" fill="#fff" stroke="#000" stroke-width="1"/><rect x="865.5" y="162.5" width="4" height="50" fill="#fff" stroke="#000" stroke-width="1"/><rect x="873" y="148" width="1" height="2" fill="#000"/><rect x="873" y="155" width="1" height="27" fill="#000"/><rect x="871.5" y="150.5" width="4" height="4" fill="#fff" stroke="#000" stroke-width="1"/></g>
<polyline fill="none" stroke="#b3282a" stroke-width="1" shape-rendering="crispEdges" points="4.0,390.5 30.0,391.5 50.0,390.5 80.0,387.5 114.0,387.5 120.0,388.5 133.0,388.5 136.0,389.5 163.0,389.5 170.0,390.5 190.0,390.5 203.9,389.5 217.8,388.5 231.6,387.5 245.5,385.5 259.4,384.5 270.0,382.5 283.5,381.5 305.2,380.5 321.3,380.5 345.0,379.5 356.1,379.5 372.2,381.5 380.2,382.5 420.0,382.5 436.9,383.5 447.8,381.5 460.9,381.5 480.6,379.5 490.0,378.5 498.0,377.5 510.0,370.5 520.3,367.5 532.4,362.5 550.6,352.5 565.7,346.5 580.0,340.5 600.5,333.5 615.6,330.5 630.0,325.5 635.1,323.5 645.2,320.5 660.3,317.5 670.4,318.5 685.5,318.5 695.6,319.5 705.0,321.5 711.8,322.5 720.0,325.5 735.3,325.5 750.6,325.5 763.5,321.5 772.3,319.5 783.2,315.5 799.0,307.5 820.5,297.5 833.9,291.5 851.4,281.5 862.2,272.5 872.9,260.5"/>
<polyline fill="none" stroke="#0c0cc8" stroke-width="2" stroke-linejoin="round" points="4.0,386.0 12.0,386.0 16.0,385.0 66.0,385.0 72.0,386.0 80.0,387.0 90.0,388.0 100.0,389.0 112.0,391.0 125.0,391.0 147.0,392.0 150.0,393.0 178.0,393.0 190.0,392.0 196.5,389.0 208.5,386.0 217.8,384.0 227.0,381.0 236.3,378.0 241.8,377.0 250.1,376.0 270.0,375.0 281.0,375.0 289.0,376.0 297.0,378.0 309.2,380.0 321.3,381.0 333.3,381.0 341.4,382.0 348.0,383.0 356.1,385.0 372.2,386.0 384.2,386.0 392.3,385.0 408.3,385.0 420.0,384.0 439.0,383.0 447.8,379.0 457.6,377.0 480.6,376.0 490.1,372.0 500.2,367.0 508.2,362.0 520.3,352.0 530.4,345.0 536.5,340.0 544.5,332.0 550.6,325.0 556.6,320.0 564.1,315.0 575.2,312.0 583.3,312.0 595.4,314.0 605.5,316.0 615.6,319.0 622.7,321.0 630.0,321.0 635.1,323.0 645.2,322.0 665.4,322.0 675.5,321.0 685.5,319.0 695.6,320.0 700.0,321.0 709.4,324.0 720.0,329.0 729.4,330.0 750.6,330.0 763.5,325.0 768.0,323.0 777.5,311.0 792.3,292.0 804.4,279.0 816.5,264.0 823.2,259.0 833.3,250.0 843.8,242.0 855.6,242.0 862.6,238.0 873.2,224.0"/>
<g fill="#d0141c"><path d="M5.8 410.2L7.5 408.4L9.2 410.2L7.5 411.9Z"/><path d="M11.8 407.2L13.5 405.4L15.2 407.2L13.5 408.9Z"/><path d="M18.8 404.2L20.5 402.4L22.2 404.2L20.5 405.9Z"/><path d="M24.8 402.2L26.5 400.4L28.2 402.2L26.5 403.9Z"/><path d="M30.8 400.2L32.5 398.4L34.2 400.2L32.5 401.9Z"/><path d="M36.8 398.2L38.5 396.4L40.2 398.2L38.5 399.9Z"/><path d="M42.8 396.4L44.5 394.6L46.2 396.4L44.5 398.1Z"/><path d="M48.8 394.6L50.5 392.9L52.2 394.6L50.5 396.4Z"/><path d="M54.8 393.1L56.5 391.4L58.2 393.1L56.5 394.9Z"/><path d="M60.8 392.2L62.5 390.4L64.2 392.2L62.5 393.9Z"/><path d="M66.8 390.3L68.5 388.6L70.2 390.3L68.5 392.1Z"/><path d="M72.8 389.1L74.5 387.4L76.2 389.1L74.5 390.9Z"/><path d="M79.8 375.5L81.5 373.8L83.2 375.5L81.5 377.2Z"/><path d="M85.8 376.7L87.5 374.9L89.2 376.7L87.5 378.4Z"/><path d="M91.8 376.7L93.5 374.9L95.2 376.7L93.5 378.4Z"/><path d="M97.8 377.5L99.5 375.8L101.2 377.5L99.5 379.2Z"/><path d="M103.8 378.3L105.5 376.6L107.2 378.3L105.5 380.1Z"/><path d="M109.8 379.5L111.5 377.8L113.2 379.5L111.5 381.2Z"/><path d="M115.8 380.3L117.5 378.6L119.2 380.3L117.5 382.1Z"/><path d="M121.8 381.5L123.5 379.8L125.2 381.5L123.5 383.2Z"/><path d="M127.8 383.6L129.5 381.9L131.2 383.6L129.5 385.4Z"/><path d="M133.8 384.4L135.5 382.6L137.2 384.4L135.5 386.1Z"/><path d="M139.8 398.7L141.5 396.9L143.2 398.7L141.5 400.4Z"/><path d="M146.8 398.7L148.5 396.9L150.2 398.7L148.5 400.4Z"/><path d="M152.8 398.7L154.5 396.9L156.2 398.7L154.5 400.4Z"/><path d="M158.8 398.7L160.5 396.9L162.2 398.7L160.5 400.4Z"/><path d="M164.8 397.4L166.5 395.6L168.2 397.4L166.5 399.1Z"/><path d="M170.8 397.4L172.5 395.6L174.2 397.4L172.5 399.1Z"/><path d="M176.8 397.4L178.5 395.6L180.2 397.4L178.5 399.1Z"/><path d="M182.8 396.6L184.5 394.9L186.2 396.6L184.5 398.4Z"/><path d="M188.8 396.4L190.5 394.6L192.2 396.4L190.5 398.1Z"/><path d="M194.8 396.3L196.5 394.6L198.2 396.3L196.5 398.1Z"/><path d="M200.8 395.4L202.5 393.6L204.2 395.4L202.5 397.1Z"/><path d="M207.8 393.1L209.5 391.4L211.2 393.1L209.5 394.9Z"/><path d="M213.8 392.4L215.5 390.6L217.2 392.4L215.5 394.1Z"/><path d="M219.8 390.3L221.5 388.6L223.2 390.3L221.5 392.1Z"/><path d="M225.8 388.5L227.5 386.8L229.2 388.5L227.5 390.2Z"/><path d="M231.8 386.6L233.5 384.9L235.2 386.6L233.5 388.4Z"/><path d="M237.8 384.8L239.5 383.1L241.2 384.8L239.5 386.6Z"/><path d="M243.8 383.4L245.5 381.6L247.2 383.4L245.5 385.1Z"/><path d="M249.8 381.3L251.5 379.6L253.2 381.3L251.5 383.1Z"/><path d="M255.8 381.3L257.5 379.6L259.2 381.3L257.5 383.1Z"/><path d="M261.8 381.3L263.5 379.6L265.2 381.3L263.5 383.1Z"/><path d="M267.8 380.4L269.5 378.6L271.2 380.4L269.5 382.1Z"/><path d="M274.8 380.5L276.5 378.8L278.2 380.5L276.5 382.2Z"/><path d="M280.8 380.9L282.5 379.1L284.2 380.9L282.5 382.6Z"/><path d="M286.8 363.2L288.5 361.4L290.2 363.2L288.5 364.9Z"/><path d="M292.8 364.4L294.5 362.6L296.2 364.4L294.5 366.1Z"/><path d="M298.8 364.4L300.5 362.6L302.2 364.4L300.5 366.1Z"/><path d="M304.8 366.4L306.5 364.6L308.2 366.4L306.5 368.1Z"/><path d="M310.8 367.6L312.5 365.9L314.2 367.6L312.5 369.4Z"/><path d="M316.8 369.5L318.5 367.8L320.2 369.5L318.5 371.2Z"/><path d="M322.8 370.5L324.5 368.8L326.2 370.5L324.5 372.2Z"/><path d="M328.8 372.5L330.5 370.8L332.2 372.5L330.5 374.2Z"/><path d="M335.8 373.3L337.5 371.6L339.2 373.3L337.5 375.1Z"/><path d="M341.8 374.5L343.5 372.8L345.2 374.5L343.5 376.2Z"/><path d="M347.8 376.5L349.5 374.8L351.2 376.5L349.5 378.2Z"/><path d="M353.8 378.5L355.5 376.8L357.2 378.5L355.5 380.2Z"/><path d="M359.8 380.5L361.5 378.8L363.2 380.5L361.5 382.2Z"/><path d="M365.8 381.7L367.5 379.9L369.2 381.7L367.5 383.4Z"/><path d="M371.8 395.4L373.5 393.6L375.2 395.4L373.5 397.1Z"/><path d="M377.8 394.6L379.5 392.9L381.2 394.6L379.5 396.4Z"/><path d="M383.8 394.6L385.5 392.9L387.2 394.6L385.5 396.4Z"/><path d="M389.8 394.6L391.5 392.9L393.2 394.6L391.5 396.4Z"/><path d="M396.8 393.4L398.5 391.6L400.2 393.4L398.5 395.1Z"/><path d="M402.8 391.4L404.5 389.6L406.2 391.4L404.5 393.1Z"/><path d="M408.8 389.3L410.5 387.6L412.2 389.3L410.5 391.1Z"/><path d="M414.8 387.3L416.5 385.6L418.2 387.3L416.5 389.1Z"/><path d="M420.8 386.3L422.5 384.6L424.2 386.3L422.5 388.1Z"/><path d="M426.8 385.5L428.5 383.8L430.2 385.5L428.5 387.2Z"/><path d="M432.8 384.4L434.5 382.6L436.2 384.4L434.5 386.1Z"/><path d="M438.8 384.4L440.5 382.6L442.2 384.4L440.5 386.1Z"/><path d="M444.8 383.3L446.5 381.6L448.2 383.3L446.5 385.1Z"/><path d="M450.8 381.1L452.5 379.4L454.2 381.1L452.5 382.9Z"/><path d="M456.8 380.8L458.5 379.1L460.2 380.8L458.5 382.6Z"/><path d="M463.8 379.7L465.5 377.9L467.2 379.7L465.5 381.4Z"/><path d="M469.8 378.1L471.5 376.4L473.2 378.1L471.5 379.9Z"/><path d="M475.8 377.0L477.5 375.2L479.2 377.0L477.5 378.8Z"/><path d="M481.8 376.4L483.5 374.6L485.2 376.4L483.5 378.1Z"/><path d="M487.8 376.4L489.5 374.6L491.2 376.4L489.5 378.1Z"/><path d="M493.8 374.8L495.5 373.1L497.2 374.8L495.5 376.6Z"/><path d="M499.8 372.4L501.5 370.6L503.2 372.4L501.5 374.1Z"/><path d="M505.8 365.2L507.5 363.4L509.2 365.2L507.5 366.9Z"/><path d="M511.8 358.7L513.5 356.9L515.2 358.7L513.5 360.4Z"/><path d="M517.8 348.5L519.5 346.8L521.2 348.5L519.5 350.2Z"/><path d="M524.8 340.2L526.5 338.4L528.2 340.2L526.5 341.9Z"/><path d="M530.8 333.4L532.5 331.6L534.2 333.4L532.5 335.1Z"/><path d="M536.8 327.4L538.5 325.6L540.2 327.4L538.5 329.1Z"/><path d="M542.8 324.6L544.5 322.9L546.2 324.6L544.5 326.4Z"/><path d="M548.8 324.6L550.5 322.9L552.2 324.6L550.5 326.4Z"/><path d="M554.8 318.3L556.5 316.6L558.2 318.3L556.5 320.1Z"/><path d="M560.8 313.3L562.5 311.6L564.2 313.3L562.5 315.1Z"/><path d="M566.8 294.6L568.5 292.9L570.2 294.6L568.5 296.4Z"/><path d="M572.8 294.6L574.5 292.9L576.2 294.6L574.5 296.4Z"/><path d="M578.8 295.1L580.5 293.4L582.2 295.1L580.5 296.9Z"/><path d="M585.8 296.1L587.5 294.4L589.2 296.1L587.5 297.9Z"/><path d="M591.8 298.1L593.5 296.4L595.2 298.1L593.5 299.9Z"/><path d="M597.8 299.1L599.5 297.4L601.2 299.1L599.5 300.9Z"/><path d="M603.8 302.2L605.5 300.4L607.2 302.2L605.5 303.9Z"/><path d="M609.8 305.2L611.5 303.4L613.2 305.2L611.5 306.9Z"/><path d="M615.8 308.2L617.5 306.4L619.2 308.2L617.5 309.9Z"/><path d="M621.8 310.2L623.5 308.4L625.2 310.2L623.5 311.9Z"/><path d="M627.8 313.2L629.5 311.4L631.2 313.2L629.5 314.9Z"/><path d="M633.8 314.2L635.5 312.4L637.2 314.2L635.5 315.9Z"/><path d="M639.8 334.4L641.5 332.6L643.2 334.4L641.5 336.1Z"/><path d="M645.8 333.4L647.5 331.6L649.2 333.4L647.5 335.1Z"/><path d="M652.8 332.4L654.5 330.6L656.2 332.4L654.5 334.1Z"/><path d="M658.8 331.4L660.5 329.6L662.2 331.4L660.5 333.1Z"/><path d="M664.8 329.4L666.5 327.6L668.2 329.4L666.5 331.1Z"/><path d="M670.8 328.3L672.5 326.6L674.2 328.3L672.5 330.1Z"/><path d="M676.8 327.3L678.5 325.6L680.2 327.3L678.5 329.1Z"/><path d="M682.8 326.3L684.5 324.6L686.2 326.3L684.5 328.1Z"/><path d="M688.8 301.6L690.5 299.9L692.2 301.6L690.5 303.4Z"/><path d="M694.8 301.6L696.5 299.9L698.2 301.6L696.5 303.4Z"/><path d="M700.8 303.1L702.5 301.4L704.2 303.1L702.5 304.9Z"/><path d="M706.8 305.3L708.5 303.6L710.2 305.3L708.5 307.1Z"/><path d="M713.8 309.4L715.5 307.6L717.2 309.4L715.5 311.1Z"/><path d="M719.8 313.5L721.5 311.8L723.2 313.5L721.5 315.2Z"/><path d="M725.8 316.5L727.5 314.8L729.2 316.5L727.5 318.2Z"/><path d="M731.8 320.6L733.5 318.9L735.2 320.6L733.5 322.4Z"/><path d="M737.8 350.6L739.5 348.9L741.2 350.6L739.5 352.4Z"/><path d="M743.8 349.4L745.5 347.6L747.2 349.4L745.5 351.1Z"/><path d="M749.8 348.2L751.5 346.4L753.2 348.2L751.5 349.9Z"/><path d="M755.8 345.3L757.5 343.6L759.2 345.3L757.5 347.1Z"/><path d="M761.8 341.4L763.5 339.6L765.2 341.4L763.5 343.1Z"/><path d="M767.8 336.5L769.5 334.8L771.2 336.5L769.5 338.2Z"/><path d="M774.8 328.6L776.5 326.9L778.2 328.6L776.5 330.4Z"/><path d="M780.8 315.5L782.5 313.8L784.2 315.5L782.5 317.2Z"/><path d="M786.8 304.3L788.5 302.6L790.2 304.3L788.5 306.1Z"/><path d="M792.8 294.3L794.5 292.6L796.2 294.3L794.5 296.1Z"/><path d="M798.8 286.4L800.5 284.6L802.2 286.4L800.5 288.1Z"/><path d="M804.8 279.3L806.5 277.6L808.2 279.3L806.5 281.1Z"/><path d="M810.8 271.1L812.5 269.4L814.2 271.1L812.5 272.9Z"/><path d="M816.8 263.1L818.5 261.4L820.2 263.1L818.5 264.9Z"/><path d="M822.8 256.4L824.5 254.6L826.2 256.4L824.5 258.1Z"/><path d="M828.8 255.3L830.5 253.6L832.2 255.3L830.5 257.1Z"/><path d="M834.8 255.3L836.5 253.6L838.2 255.3L836.5 257.1Z"/><path d="M841.8 248.2L843.5 246.4L845.2 248.2L843.5 249.9Z"/><path d="M847.8 215.9L849.5 214.2L851.2 215.9L849.5 217.7Z"/><path d="M853.8 216.5L855.5 214.8L857.2 216.5L855.5 218.2Z"/><path d="M859.8 242.4L861.5 240.7L863.2 242.4L861.5 244.2Z"/><path d="M865.8 242.4L867.5 240.7L869.2 242.4L867.5 244.2Z"/><path d="M871.8 238.2L873.5 236.4L875.2 238.2L873.5 239.9Z"/></g>
<line x1="812" y1="218" x2="940.5" y2="218" stroke="#16168e" stroke-width="2"/>
<line x1="943.5" y1="123" x2="943.5" y2="435.5" stroke="#000"/>
<line x1="943" y1="426.5" x2="947" y2="426.5" stroke="#000"/>
<line x1="943" y1="417.5" x2="952" y2="417.5" stroke="#000"/>
<line x1="943" y1="408.5" x2="947" y2="408.5" stroke="#000"/>
<line x1="943" y1="399.5" x2="952" y2="399.5" stroke="#000"/>
<line x1="943" y1="390.5" x2="947" y2="390.5" stroke="#000"/>
<line x1="943" y1="381.5" x2="952" y2="381.5" stroke="#000"/>
<line x1="943" y1="371.5" x2="947" y2="371.5" stroke="#000"/>
<line x1="943" y1="362.5" x2="952" y2="362.5" stroke="#000"/>
<line x1="943" y1="353.5" x2="947" y2="353.5" stroke="#000"/>
<line x1="943" y1="344.5" x2="952" y2="344.5" stroke="#000"/>
<line x1="943" y1="335.5" x2="947" y2="335.5" stroke="#000"/>
<line x1="943" y1="326.5" x2="952" y2="326.5" stroke="#000"/>
<line x1="943" y1="317.5" x2="947" y2="317.5" stroke="#000"/>
<line x1="943" y1="307.5" x2="952" y2="307.5" stroke="#000"/>
<line x1="943" y1="298.5" x2="947" y2="298.5" stroke="#000"/>
<line x1="943" y1="289.5" x2="952" y2="289.5" stroke="#000"/>
<line x1="943" y1="280.5" x2="947" y2="280.5" stroke="#000"/>
<line x1="943" y1="271.5" x2="952" y2="271.5" stroke="#000"/>
<line x1="943" y1="262.5" x2="947" y2="262.5" stroke="#000"/>
<line x1="943" y1="252.5" x2="952" y2="252.5" stroke="#000"/>
<line x1="943" y1="243.5" x2="947" y2="243.5" stroke="#000"/>
<line x1="943" y1="234.5" x2="952" y2="234.5" stroke="#000"/>
<line x1="943" y1="225.5" x2="947" y2="225.5" stroke="#000"/>
<line x1="943" y1="216.5" x2="952" y2="216.5" stroke="#000"/>
<line x1="943" y1="207.5" x2="947" y2="207.5" stroke="#000"/>
<line x1="943" y1="198.5" x2="952" y2="198.5" stroke="#000"/>
<line x1="943" y1="188.5" x2="947" y2="188.5" stroke="#000"/>
<line x1="943" y1="179.5" x2="952" y2="179.5" stroke="#000"/>
<line x1="943" y1="170.5" x2="947" y2="170.5" stroke="#000"/>
<line x1="943" y1="161.5" x2="952" y2="161.5" stroke="#000"/>
<line x1="943" y1="152.5" x2="947" y2="152.5" stroke="#000"/>
<line x1="943" y1="143.5" x2="952" y2="143.5" stroke="#000"/>
<line x1="943" y1="134.5" x2="947" y2="134.5" stroke="#000"/>
<line x1="943" y1="124.5" x2="952" y2="124.5" stroke="#000"/>
<text x="989.6" y="423.3" font-family="'Liberation Sans','DejaVu Sans',Arial,sans-serif" font-size="12" fill="#000" stroke="#000" stroke-width="0.2" text-anchor="end">5</text>
<text x="989.6" y="405.0" font-family="'Liberation Sans','DejaVu Sans',Arial,sans-serif" font-size="12" fill="#000" stroke="#000" stroke-width="0.2" text-anchor="end">6</text>
<text x="989.6" y="386.7" font-family="'Liberation Sans','DejaVu Sans',Arial,sans-serif" font-size="12" fill="#000" stroke="#000" stroke-width="0.2" text-anchor="end">7</text>
<text x="989.6" y="368.4" font-family="'Liberation Sans','DejaVu Sans',Arial,sans-serif" font-size="12" fill="#000" stroke="#000" stroke-width="0.2" text-anchor="end">8</text>
<text x="989.6" y="350.1" font-family="'Liberation Sans','DejaVu Sans',Arial,sans-serif" font-size="12" fill="#000" stroke="#000" stroke-width="0.2" text-anchor="end">9</text>
<text x="989.6" y="331.8" font-family="'Liberation Sans','DejaVu Sans',Arial,sans-serif" font-size="12" fill="#000" stroke="#000" stroke-width="0.2" text-anchor="end">10</text>
<text x="989.6" y="313.5" font-family="'Liberation Sans','DejaVu Sans',Arial,sans-serif" font-size="12" fill="#000" stroke="#000" stroke-width="0.2" text-anchor="end">11</text>
<text x="989.6" y="295.2" font-family="'Liberation Sans','DejaVu Sans',Arial,sans-serif" font-size="12" fill="#000" stroke="#000" stroke-width="0.2" text-anchor="end">12</text>
<text x="989.6" y="276.9" font-family="'Liberation Sans','DejaVu Sans',Arial,sans-serif" font-size="12" fill="#000" stroke="#000" stroke-width="0.2" text-anchor="end">13</text>
<text x="989.6" y="258.6" font-family="'Liberation Sans','DejaVu Sans',Arial,sans-serif" font-size="12" fill="#000" stroke="#000" stroke-width="0.2" text-anchor="end">14</text>
<text x="989.6" y="240.3" font-family="'Liberation Sans','DejaVu Sans',Arial,sans-serif" font-size="12" fill="#000" stroke="#000" stroke-width="0.2" text-anchor="end">15</text>
<text x="989.6" y="222.0" font-family="'Liberation Sans','DejaVu Sans',Arial,sans-serif" font-size="12" fill="#000" stroke="#000" stroke-width="0.2" text-anchor="end">16</text>
<text x="989.6" y="203.7" font-family="'Liberation Sans','DejaVu Sans',Arial,sans-serif" font-size="12" fill="#000" stroke="#000" stroke-width="0.2" text-anchor="end">17</text>
<text x="989.6" y="185.4" font-family="'Liberation Sans','DejaVu Sans',Arial,sans-serif" font-size="12" fill="#000" stroke="#000" stroke-width="0.2" text-anchor="end">18</text>
<text x="989.6" y="167.1" font-family="'Liberation Sans','DejaVu Sans',Arial,sans-serif" font-size="12" fill="#000" stroke="#000" stroke-width="0.2" text-anchor="end">19</text>
<rect x="948" y="141" width="41" height="16" fill="#000"/>
<text x="949.5" y="153" font-family="'Liberation Sans','DejaVu Sans',Arial,sans-serif" font-size="11" fill="#33c433" textLength="38" lengthAdjust="spacingAndGlyphs">19.5900</text>
<line x1="4" y1="451.5" x2="943" y2="451.5" stroke="#1b1b9c" stroke-width="1"/>
<g fill="#1a1a7e" shape-rendering="crispEdges"><rect x="7" y="548" width="1" height="11"/><rect x="13" y="554" width="1" height="5"/><rect x="20" y="557" width="1" height="2"/><rect x="32" y="555" width="1" height="4"/><rect x="38" y="557" width="1" height="2"/><rect x="44" y="557" width="1" height="2"/><rect x="50" y="557" width="1" height="2"/><rect x="56" y="556" width="1" height="3"/><rect x="62" y="557" width="1" height="2"/><rect x="68" y="554" width="1" height="5"/><rect x="74" y="555" width="1" height="4"/><rect x="81" y="556" width="1" height="3"/><rect x="105" y="558" width="1" height="1"/><rect x="111" y="557" width="1" height="2"/><rect x="117" y="557" width="1" height="2"/><rect x="123" y="558" width="1" height="1"/><rect x="135" y="558" width="1" height="1"/><rect x="141" y="543" width="1" height="16"/><rect x="148" y="553" width="1" height="6"/><rect x="154" y="557" width="1" height="2"/><rect x="160" y="552" width="1" height="7"/><rect x="166" y="556" width="1" height="3"/><rect x="172" y="557" width="1" height="2"/><rect x="178" y="558" width="1" height="1"/><rect x="184" y="556" width="1" height="3"/><rect x="190" y="554" width="1" height="5"/><rect x="196" y="514" width="1" height="45"/><rect x="202" y="537" width="1" height="22"/><rect x="209" y="551" width="1" height="8"/><rect x="215" y="543" width="1" height="16"/><rect x="221" y="541" width="1" height="18"/><rect x="227" y="548" width="1" height="11"/><rect x="233" y="554" width="1" height="5"/><rect x="239" y="552" width="1" height="7"/><rect x="245" y="553" width="1" height="6"/><rect x="251" y="554" width="1" height="5"/><rect x="257" y="554" width="1" height="5"/><rect x="263" y="555" width="1" height="4"/><rect x="269" y="556" width="1" height="3"/><rect x="276" y="557" width="1" height="2"/><rect x="282" y="557" width="1" height="2"/><rect x="288" y="556" width="1" height="3"/><rect x="294" y="556" width="1" height="3"/><rect x="300" y="556" width="1" height="3"/><rect x="306" y="558" width="1" height="1"/><rect x="312" y="558" width="1" height="1"/><rect x="324" y="553" width="1" height="6"/><rect x="330" y="557" width="1" height="2"/><rect x="337" y="557" width="1" height="2"/><rect x="343" y="558" width="1" height="1"/><rect x="355" y="558" width="1" height="1"/><rect x="361" y="557" width="1" height="2"/><rect x="367" y="558" width="1" height="1"/><rect x="373" y="558" width="1" height="1"/><rect x="379" y="557" width="1" height="2"/><rect x="385" y="557" width="1" height="2"/><rect x="391" y="546" width="1" height="13"/><rect x="398" y="543" width="1" height="16"/><rect x="404" y="555" width="1" height="4"/><rect x="410" y="555" width="1" height="4"/><rect x="416" y="557" width="1" height="2"/><rect x="422" y="557" width="1" height="2"/><rect x="440" y="527" width="1" height="32"/><rect x="446" y="556" width="1" height="3"/><rect x="452" y="553" width="1" height="6"/><rect x="458" y="555" width="1" height="4"/><rect x="465" y="556" width="1" height="3"/><rect x="471" y="556" width="1" height="3"/><rect x="477" y="557" width="1" height="2"/><rect x="483" y="557" width="1" height="2"/><rect x="489" y="488" width="1" height="71"/><rect x="495" y="452" width="1" height="107"/><rect x="501" y="521" width="1" height="38"/><rect x="507" y="453" width="1" height="106"/><rect x="513" y="452" width="1" height="107"/><rect x="519" y="508" width="1" height="51"/><rect x="526" y="488" width="1" height="71"/><rect x="532" y="515" width="1" height="44"/><rect x="538" y="496" width="1" height="63"/><rect x="544" y="501" width="1" height="58"/><rect x="550" y="506" width="1" height="53"/><rect x="556" y="531" width="1" height="28"/><rect x="562" y="538" width="1" height="21"/><rect x="568" y="537" width="1" height="22"/><rect x="574" y="546" width="1" height="13"/><rect x="580" y="538" width="1" height="21"/><rect x="587" y="547" width="1" height="12"/><rect x="593" y="548" width="1" height="11"/><rect x="599" y="546" width="1" height="13"/><rect x="605" y="549" width="1" height="10"/><rect x="611" y="546" width="1" height="13"/><rect x="617" y="534" width="1" height="25"/><rect x="623" y="541" width="1" height="18"/><rect x="629" y="542" width="1" height="17"/><rect x="635" y="549" width="1" height="10"/><rect x="641" y="511" width="1" height="48"/><rect x="647" y="540" width="1" height="19"/><rect x="654" y="550" width="1" height="9"/><rect x="660" y="555" width="1" height="4"/><rect x="666" y="554" width="1" height="5"/><rect x="672" y="556" width="1" height="3"/><rect x="678" y="554" width="1" height="5"/><rect x="684" y="554" width="1" height="5"/><rect x="690" y="548" width="1" height="11"/><rect x="696" y="552" width="1" height="7"/><rect x="702" y="554" width="1" height="5"/><rect x="708" y="548" width="1" height="11"/><rect x="715" y="552" width="1" height="7"/><rect x="721" y="556" width="1" height="3"/><rect x="727" y="535" width="1" height="24"/><rect x="733" y="544" width="1" height="15"/><rect x="739" y="539" width="1" height="20"/><rect x="745" y="541" width="1" height="18"/><rect x="751" y="539" width="1" height="20"/><rect x="757" y="519" width="1" height="40"/><rect x="763" y="532" width="1" height="27"/><rect x="769" y="510" width="1" height="49"/><rect x="776" y="510" width="1" height="49"/><rect x="782" y="525" width="1" height="34"/><rect x="788" y="541" width="1" height="18"/><rect x="794" y="536" width="1" height="23"/><rect x="800" y="549" width="1" height="10"/><rect x="806" y="534" width="1" height="25"/><rect x="812" y="543" width="1" height="16"/><rect x="818" y="537" width="1" height="22"/><rect x="824" y="551" width="1" height="8"/><rect x="830" y="543" width="1" height="16"/><rect x="836" y="548" width="1" height="11"/><rect x="843" y="538" width="1" height="21"/><rect x="849" y="552" width="1" height="7"/><rect x="855" y="550" width="1" height="9"/><rect x="861" y="525" width="1" height="34"/><rect x="867" y="508" width="1" height="51"/><rect x="873" y="523" width="1" height="36"/></g>
<line x1="943.5" y1="440.5" x2="943.5" y2="559" stroke="#000"/>
<line x1="943" y1="552.5" x2="947" y2="552.5" stroke="#000"/>
<line x1="943" y1="545.5" x2="952" y2="545.5" stroke="#000"/>
<line x1="943" y1="537.5" x2="947" y2="537.5" stroke="#000"/>
<line x1="943" y1="530.5" x2="952" y2="530.5" stroke="#000"/>
<line x1="943" y1="523.5" x2="947" y2="523.5" stroke="#000"/>
<line x1="943" y1="515.5" x2="952" y2="515.5" stroke="#000"/>
<line x1="943" y1="508.5" x2="947" y2="508.5" stroke="#000"/>
<line x1="943" y1="500.5" x2="952" y2="500.5" stroke="#000"/>
<line x1="943" y1="493.5" x2="947" y2="493.5" stroke="#000"/>
<line x1="943" y1="486.5" x2="952" y2="486.5" stroke="#000"/>
<line x1="943" y1="478.5" x2="947" y2="478.5" stroke="#000"/>
<line x1="943" y1="471.5" x2="952" y2="471.5" stroke="#000"/>
<line x1="943" y1="463.5" x2="947" y2="463.5" stroke="#000"/>
<line x1="943" y1="456.5" x2="952" y2="456.5" stroke="#000"/>
<line x1="943" y1="449.5" x2="947" y2="449.5" stroke="#000"/>
<line x1="943" y1="441.5" x2="952" y2="441.5" stroke="#000"/>
<text x="989.6" y="550.9" font-family="'Liberation Sans','DejaVu Sans',Arial,sans-serif" font-size="12" fill="#000" stroke="#000" stroke-width="0.2" text-anchor="end">10000</text>
<text x="989.6" y="536.1" font-family="'Liberation Sans','DejaVu Sans',Arial,sans-serif" font-size="12" fill="#000" stroke="#000" stroke-width="0.2" text-anchor="end">20000</text>
<text x="989.6" y="521.3" font-family="'Liberation Sans','DejaVu Sans',Arial,sans-serif" font-size="12" fill="#000" stroke="#000" stroke-width="0.2" text-anchor="end">30000</text>
<text x="989.6" y="506.5" font-family="'Liberation Sans','DejaVu Sans',Arial,sans-serif" font-size="12" fill="#000" stroke="#000" stroke-width="0.2" text-anchor="end">40000</text>
<text x="989.6" y="491.7" font-family="'Liberation Sans','DejaVu Sans',Arial,sans-serif" font-size="12" fill="#000" stroke="#000" stroke-width="0.2" text-anchor="end">50000</text>
<text x="989.6" y="476.9" font-family="'Liberation Sans','DejaVu Sans',Arial,sans-serif" font-size="12" fill="#000" stroke="#000" stroke-width="0.2" text-anchor="end">60000</text>
<text x="989.6" y="462.1" font-family="'Liberation Sans','DejaVu Sans',Arial,sans-serif" font-size="12" fill="#000" stroke="#000" stroke-width="0.2" text-anchor="end">70000</text>
<rect x="945.5" y="546.5" width="22.5" height="12" fill="#fff" stroke="#000"/>
<text x="946.6" y="556.3" font-family="'Liberation Sans','DejaVu Sans',Arial,sans-serif" font-size="10" fill="#17204a" textLength="19.6" lengthAdjust="spacingAndGlyphs">x100</text>
<rect x="4" y="559" width="940" height="32" fill="#fff"/>
<line x1="4" y1="559.5" x2="944" y2="559.5" stroke="#000"/>
<line x1="4" y1="575.5" x2="944" y2="575.5" stroke="#000"/>
<svg x="4" y="0" width="939" height="595" viewBox="4 0 939 595" overflow="hidden"><line x1="26.5" y1="559" x2="26.5" y2="575" stroke="#000"/><text x="28" y="572" font-family="'Liberation Sans','DejaVu Sans',Arial,sans-serif" font-size="12" fill="#000" stroke="#000" stroke-width="0.2">10</text><line x1="50.5" y1="559" x2="50.5" y2="575" stroke="#000"/><text x="52" y="572" font-family="'Liberation Sans','DejaVu Sans',Arial,sans-serif" font-size="12" fill="#000" stroke="#000" stroke-width="0.2">18</text><line x1="80.5" y1="559" x2="80.5" y2="575" stroke="#000"/><text x="82" y="572" font-family="'Liberation Sans','DejaVu Sans',Arial,sans-serif" font-size="12" fill="#000" stroke="#000" stroke-width="0.2">1</text><line x1="105.5" y1="559" x2="105.5" y2="575" stroke="#000"/><text x="107" y="572" font-family="'Liberation Sans','DejaVu Sans',Arial,sans-serif" font-size="12" fill="#000" stroke="#000" stroke-width="0.2">8</text><line x1="135.5" y1="559" x2="135.5" y2="575" stroke="#000"/><text x="137" y="572" font-family="'Liberation Sans','DejaVu Sans',Arial,sans-serif" font-size="12" fill="#000" stroke="#000" stroke-width="0.2">15</text><line x1="165.5" y1="559" x2="165.5" y2="575" stroke="#000"/><text x="167" y="572" font-family="'Liberation Sans','DejaVu Sans',Arial,sans-serif" font-size="12" fill="#000" stroke="#000" stroke-width="0.2">22</text><line x1="196.5" y1="559" x2="196.5" y2="575" stroke="#000"/><text x="198" y="572" font-family="'Liberation Sans','DejaVu Sans',Arial,sans-serif" font-size="12" fill="#000" stroke="#000" stroke-width="0.2">29</text><line x1="227.5" y1="559" x2="227.5" y2="575" stroke="#000"/><text x="229" y="572" font-family="'Liberation Sans','DejaVu Sans',Arial,sans-serif" font-size="12" fill="#000" stroke="#000" stroke-width="0.2">5</text><line x1="257.5" y1="559" x2="257.5" y2="575" stroke="#000"/><text x="259" y="572" font-family="'Liberation Sans','DejaVu Sans',Arial,sans-serif" font-size="12" fill="#000" stroke="#000" stroke-width="0.2">12</text><line x1="288.5" y1="559" x2="288.5" y2="575" stroke="#000"/><text x="290" y="572" font-family="'Liberation Sans','DejaVu Sans',Arial,sans-serif" font-size="12" fill="#000" stroke="#000" stroke-width="0.2">19</text><line x1="318.5" y1="559" x2="318.5" y2="575" stroke="#000"/><text x="320" y="572" font-family="'Liberation Sans','DejaVu Sans',Arial,sans-serif" font-size="12" fill="#000" stroke="#000" stroke-width="0.2">26</text><line x1="349.5" y1="559" x2="349.5" y2="575" stroke="#000"/><text x="351" y="572" font-family="'Liberation Sans','DejaVu Sans',Arial,sans-serif" font-size="12" fill="#000" stroke="#000" stroke-width="0.2">10</text><line x1="379.5" y1="559" x2="379.5" y2="575" stroke="#000"/><text x="381" y="572" font-family="'Liberation Sans','DejaVu Sans',Arial,sans-serif" font-size="12" fill="#000" stroke="#000" stroke-width="0.2">17</text><line x1="398.5" y1="559" x2="398.5" y2="575" stroke="#000"/><line x1="428.5" y1="559" x2="428.5" y2="575" stroke="#000"/><text x="430" y="572" font-family="'Liberation Sans','DejaVu Sans',Arial,sans-serif" font-size="12" fill="#000" stroke="#000" stroke-width="0.2">31</text><line x1="458.5" y1="559" x2="458.5" y2="575" stroke="#000"/><text x="460" y="572" font-family="'Liberation Sans','DejaVu Sans',Arial,sans-serif" font-size="12" fill="#000" stroke="#000" stroke-width="0.2">7</text><line x1="489.5" y1="559" x2="489.5" y2="575" stroke="#000"/><text x="491" y="572" font-family="'Liberation Sans','DejaVu Sans',Arial,sans-serif" font-size="12" fill="#000" stroke="#000" stroke-width="0.2">14</text><line x1="519.5" y1="559" x2="519.5" y2="575" stroke="#000"/><text x="521" y="572" font-family="'Liberation Sans','DejaVu Sans',Arial,sans-serif" font-size="12" fill="#000" stroke="#000" stroke-width="0.2">21</text><line x1="550.5" y1="559" x2="550.5" y2="575" stroke="#000"/><text x="552" y="572" font-family="'Liberation Sans','DejaVu Sans',Arial,sans-serif" font-size="12" fill="#000" stroke="#000" stroke-width="0.2">28</text><line x1="580.5" y1="559" x2="580.5" y2="575" stroke="#000"/><text x="582" y="572" font-family="'Liberation Sans','DejaVu Sans',Arial,sans-serif" font-size="12" fill="#000" stroke="#000" stroke-width="0.2">4</text><line x1="611.5" y1="559" x2="611.5" y2="575" stroke="#000"/><text x="613" y="572" font-family="'Liberation Sans','DejaVu Sans',Arial,sans-serif" font-size="12" fill="#000" stroke="#000" stroke-width="0.2">11</text><line x1="641.5" y1="559" x2="641.5" y2="575" stroke="#000"/><text x="643" y="572" font-family="'Liberation Sans','DejaVu Sans',Arial,sans-serif" font-size="12" fill="#000" stroke="#000" stroke-width="0.2">18</text><line x1="672.5" y1="559" x2="672.5" y2="575" stroke="#000"/><text x="674" y="572" font-family="'Liberation Sans','DejaVu Sans',Arial,sans-serif" font-size="12" fill="#000" stroke="#000" stroke-width="0.2">25</text><line x1="696.5" y1="559" x2="696.5" y2="575" stroke="#000"/><text x="698" y="572" font-family="'Liberation Sans','DejaVu Sans',Arial,sans-serif" font-size="12" fill="#000" stroke="#000" stroke-width="0.2">2</text><line x1="721.5" y1="559" x2="721.5" y2="575" stroke="#000"/><text x="723" y="572" font-family="'Liberation Sans','DejaVu Sans',Arial,sans-serif" font-size="12" fill="#000" stroke="#000" stroke-width="0.2">9</text><line x1="751.5" y1="559" x2="751.5" y2="575" stroke="#000"/><text x="753" y="572" font-family="'Liberation Sans','DejaVu Sans',Arial,sans-serif" font-size="12" fill="#000" stroke="#000" stroke-width="0.2">16</text><line x1="782.5" y1="559" x2="782.5" y2="575" stroke="#000"/><text x="784" y="572" font-family="'Liberation Sans','DejaVu Sans',Arial,sans-serif" font-size="12" fill="#000" stroke="#000" stroke-width="0.2">23</text><line x1="812.5" y1="559" x2="812.5" y2="575" stroke="#000"/><text x="814" y="572" font-family="'Liberation Sans','DejaVu Sans',Arial,sans-serif" font-size="12" fill="#000" stroke="#000" stroke-width="0.2">30</text><line x1="843.5" y1="559" x2="843.5" y2="575" stroke="#000"/><text x="845" y="572" font-family="'Liberation Sans','DejaVu Sans',Arial,sans-serif" font-size="12" fill="#000" stroke="#000" stroke-width="0.2">6</text><line x1="873.5" y1="559" x2="873.5" y2="575" stroke="#000"/><text x="875" y="572" font-family="'Liberation Sans','DejaVu Sans',Arial,sans-serif" font-size="12" fill="#000" stroke="#000" stroke-width="0.2">13</text><line x1="904.5" y1="559" x2="904.5" y2="575" stroke="#000"/><text x="906" y="572" font-family="'Liberation Sans','DejaVu Sans',Arial,sans-serif" font-size="12" fill="#000" stroke="#000" stroke-width="0.2">20</text><line x1="934.5" y1="559" x2="934.5" y2="575" stroke="#000"/><text x="936" y="572" font-family="'Liberation Sans','DejaVu Sans',Arial,sans-serif" font-size="12" fill="#000" stroke="#000" stroke-width="0.2">2</text><text x="-10" y="588" font-family="'Liberation Sans','DejaVu Sans',Arial,sans-serif" font-size="12" fill="#000" stroke="#000" stroke-width="0.2">April</text><line x1="80.5" y1="559" x2="80.5" y2="591" stroke="#000"/><text x="82" y="588" font-family="'Liberation Sans','DejaVu Sans',Arial,sans-serif" font-size="12" fill="#000" stroke="#000" stroke-width="0.2">May</text><line x1="215.5" y1="559" x2="215.5" y2="591" stroke="#000"/><text x="217" y="588" font-family="'Liberation Sans','DejaVu Sans',Arial,sans-serif" font-size="12" fill="#000" stroke="#000" stroke-width="0.2">June</text><line x1="324.5" y1="575" x2="324.5" y2="591" stroke="#000"/><text x="326" y="588" font-family="'Liberation Sans','DejaVu Sans',Arial,sans-serif" font-size="12" fill="#000" stroke="#000" stroke-width="0.2">July</text><line x1="434.5" y1="575" x2="434.5" y2="591" stroke="#000"/><text x="436" y="588" font-family="'Liberation Sans','DejaVu Sans',Arial,sans-serif" font-size="12" fill="#000" stroke="#000" stroke-width="0.2">August</text><line x1="574.5" y1="559" x2="574.5" y2="591" stroke="#000"/><text x="576" y="588" font-family="'Liberation Sans','DejaVu Sans',Arial,sans-serif" font-size="12" fill="#000" stroke="#000" stroke-width="0.2">September</text><line x1="690.5" y1="559" x2="690.5" y2="591" stroke="#000"/><text x="692" y="588" font-family="'Liberation Sans','DejaVu Sans',Arial,sans-serif" font-size="12" fill="#000" stroke="#000" stroke-width="0.2">October</text><line x1="824.5" y1="575" x2="824.5" y2="591" stroke="#000"/><text x="826" y="588" font-family="'Liberation Sans','DejaVu Sans',Arial,sans-serif" font-size="12" fill="#000" stroke="#000" stroke-width="0.2">November</text></svg>
<rect x="0" y="160" width="2" height="1" fill="#9a9a9a"/>
<rect x="576" y="593.5" width="236" height="1.5" fill="#8a8a8a"/></svg>
</body></html>
